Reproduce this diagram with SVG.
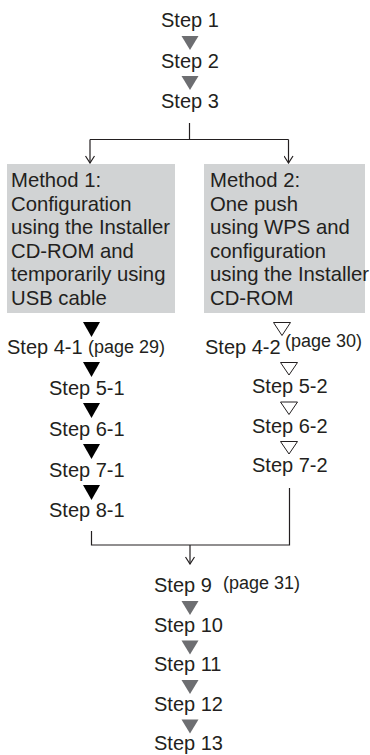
<svg xmlns="http://www.w3.org/2000/svg" width="370" height="755" viewBox="0 0 370 755">
<defs>
<style>
text{font-family:"Liberation Sans",Arial,Helvetica,sans-serif;fill:#231f20}
.st{font-size:20px}
.pg{font-size:18px}
.bx{font-size:20.3px}
.box{fill:#d1d3d4}
.gt{fill:#6d6e71}
.bt{fill:#000}
.ht{fill:#fff;stroke:#231f20;stroke-width:1}
.ln{fill:none;stroke:#231f20;stroke-width:1.2}
</style>
<marker id="ah" viewBox="0 0 10 10" refX="9.5" refY="5" markerWidth="10" markerHeight="10" markerUnits="userSpaceOnUse" orient="auto">
<path d="M2.5,0.5 L9.5,5 L2.5,9.5" fill="none" stroke="#231f20" stroke-width="1.2"/>
</marker>
</defs>
<rect width="370" height="755" fill="#fff"/>

<g id="connectors">
<path class="ln" d="M189.5,123 V139.5"/>
<path class="ln" d="M90,139.5 H288.5"/>
<path class="ln" d="M90,139.5 V163" marker-end="url(#ah)"/>
<path class="ln" d="M288.5,139.5 V163" marker-end="url(#ah)"/>
<path class="ln" d="M91.5,531 V545 H289.5 V488"/>
<path class="ln" d="M190,545 V564" marker-end="url(#ah)"/>
</g>

<g id="step1"><text class="st" x="161" y="27">Step 1</text></g>
<polygon class="gt" points="181.5,36 198.5,36 190,50"/>
<g id="step2"><text class="st" x="161" y="67.5">Step 2</text></g>
<polygon class="gt" points="181.5,76 198.5,76 190,90"/>
<g id="step3"><text class="st" x="161" y="108">Step 3</text></g>

<g id="method1">
<rect class="box" x="7" y="164" width="168" height="149"/>
<text class="bx" x="11" y="187">Method 1:</text>
<text class="bx" x="11" y="210.6">Configuration</text>
<text class="bx" x="11" y="234.2">using the Installer</text>
<text class="bx" x="11" y="257.8">CD-ROM and</text>
<text class="bx" x="11" y="281.4">temporarily using</text>
<text class="bx" x="11" y="305">USB cable</text>
</g>

<g id="method2">
<rect class="box" x="204" y="164" width="161" height="149"/>
<text class="bx" x="210" y="187">Method 2:</text>
<text class="bx" x="210" y="210.6">One push</text>
<text class="bx" x="210" y="234.2">using WPS and</text>
<text class="bx" x="210" y="257.8">configuration</text>
<text class="bx" x="210" y="281.4">using the Installer</text>
<text class="bx" x="210" y="305">CD-ROM</text>
</g>

<polygon class="bt" points="83,322 100,322 91.5,337"/>
<g id="step4-1"><text class="st" x="7" y="353.5">Step 4-1</text><text class="pg" x="88" y="353">(page 29)</text></g>
<polygon class="bt" points="83,362 100,362 91.5,377"/>
<g id="step5-1"><text class="st" x="49" y="394.5">Step 5-1</text></g>
<polygon class="bt" points="83,403 100,403 91.5,418"/>
<g id="step6-1"><text class="st" x="49" y="435.5">Step 6-1</text></g>
<polygon class="bt" points="83,444 100,444 91.5,459"/>
<g id="step7-1"><text class="st" x="49" y="476.5">Step 7-1</text></g>
<polygon class="bt" points="83,485 100,485 91.5,500"/>
<g id="step8-1"><text class="st" x="49" y="517">Step 8-1</text></g>

<polygon class="ht" points="273.5,322.5 290.5,322.5 282,335.5"/>
<g id="step4-2"><text class="st" x="205" y="353.5">Step 4-2</text><text class="pg" x="285" y="347">(page 30)</text></g>
<polygon class="ht" points="280.5,362.5 297.5,362.5 289,375"/>
<g id="step5-2"><text class="st" x="252" y="393">Step 5-2</text></g>
<polygon class="ht" points="280.5,402 297.5,402 289,414.5"/>
<g id="step6-2"><text class="st" x="252" y="432.5">Step 6-2</text></g>
<polygon class="ht" points="280.5,441.5 297.5,441.5 289,454"/>
<g id="step7-2"><text class="st" x="252" y="472">Step 7-2</text></g>

<g id="step9"><text class="st" x="154" y="592">Step 9</text><text class="pg" x="223" y="589">(page 31)</text></g>
<polygon class="gt" points="181.5,601 198.5,601 190,615"/>
<g id="step10"><text class="st" x="154" y="631.5">Step 10</text></g>
<polygon class="gt" points="181.5,640.5 198.5,640.5 190,654.5"/>
<g id="step11"><text class="st" x="154" y="671">Step 11</text></g>
<polygon class="gt" points="181.5,680 198.5,680 190,694"/>
<g id="step12"><text class="st" x="154" y="710.5">Step 12</text></g>
<polygon class="gt" points="181.5,719.5 198.5,719.5 190,733.5"/>
<g id="step13"><text class="st" x="154" y="750">Step 13</text></g>
</svg>
